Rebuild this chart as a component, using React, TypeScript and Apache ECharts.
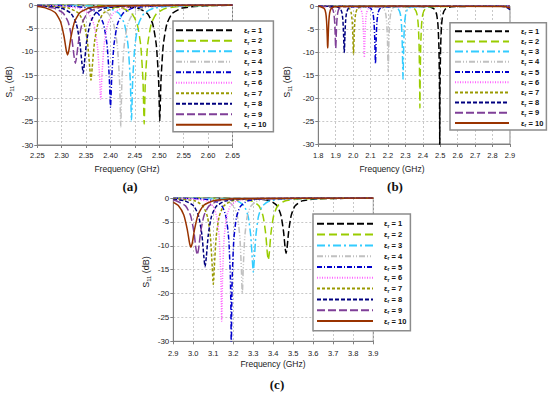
import React, { useEffect, useRef } from 'react';
import * as echarts from 'echarts';

const legendNames = ['εr = 1', 'εr = 2', 'εr = 3', 'εr = 4', 'εr = 5', 'εr = 6', 'εr = 7', 'εr = 8', 'εr = 9', 'εr = 10'];
const colors = ['#000000', '#99cc00', '#33ccff', '#c0c0c0', '#0000cc', '#ff66ff', '#999900', '#000080', '#7f3f98', '#993300'];
const dashes: any[] = [[7, 3], [8, 4], [8, 3, 2, 3], [6, 2, 1, 2, 1, 2], [5, 2, 1, 2], [1, 1.5], [3, 2], [4, 2], [8, 3], 'solid'];

const ticksA = [2.25, 2.65, 0.05];
const ticksB = [1.8, 2.9, 0.1];
const ticksC = [2.9, 3.9, 0.1];
const ticksY = [-30, 0, 5];

// Panel (a)
const A1 = [[2.25,-0.02],[2.41,-0.18],[2.455,-0.66],[2.4755,-1.82],[2.4865,-4.06],[2.4938,-8.52],[2.4985,-16.0],[2.500,-21.6],[2.501,-24.8],[2.502,-21.6],[2.5035,-16.0],[2.5082,-8.52],[2.5155,-4.06],[2.5265,-1.82],[2.547,-0.66],[2.592,-0.18],[2.65,-0.06]];
const A2 = [[2.25,-0.03],[2.378,-0.18],[2.423,-0.66],[2.4435,-1.82],[2.4545,-4.06],[2.4618,-8.52],[2.4665,-16.0],[2.468,-21.9],[2.469,-25.5],[2.470,-21.9],[2.4715,-16.0],[2.4762,-8.52],[2.4835,-4.06],[2.4945,-1.82],[2.515,-0.66],[2.56,-0.18],[2.65,-0.05]];
const A3 = [[2.25,-0.03],[2.352,-0.18],[2.397,-0.66],[2.4175,-1.82],[2.4285,-4.06],[2.4358,-8.52],[2.4405,-16.0],[2.442,-21.6],[2.443,-24.8],[2.444,-21.6],[2.4455,-16.0],[2.4502,-8.52],[2.4575,-4.06],[2.4685,-1.82],[2.489,-0.66],[2.534,-0.18],[2.65,-0.04]];
const A4 = [[2.25,-0.05],[2.33,-0.18],[2.375,-0.66],[2.3955,-1.82],[2.4065,-4.06],[2.4138,-8.53],[2.4185,-16.1],[2.42,-22.1],[2.421,-26.1],[2.422,-22.1],[2.4235,-16.1],[2.4282,-8.53],[2.4355,-4.06],[2.4465,-1.82],[2.467,-0.66],[2.512,-0.18],[2.65,-0.03]];
const A5 = [[2.25,-0.07],[2.309,-0.18],[2.354,-0.66],[2.3745,-1.80],[2.3855,-4.04],[2.3928,-8.42],[2.3975,-15.5],[2.399,-19.9],[2.40,-21.9],[2.401,-19.9],[2.4025,-15.5],[2.4072,-8.42],[2.4145,-4.04],[2.4255,-1.80],[2.446,-0.66],[2.491,-0.18],[2.65,-0.03]];
const A6 = [[2.25,-0.09],[2.289,-0.18],[2.334,-0.66],[2.3545,-1.79],[2.3655,-4.02],[2.3728,-8.35],[2.3775,-15.0],[2.379,-18.8],[2.38,-20.2],[2.381,-18.8],[2.3825,-15.0],[2.3872,-8.35],[2.3945,-4.02],[2.4055,-1.79],[2.426,-0.66],[2.471,-0.18],[2.65,-0.02]];
const A7 = [[2.25,-0.12],[2.269,-0.18],[2.314,-0.65],[2.3345,-1.76],[2.3455,-3.92],[2.3528,-7.98],[2.3575,-13.4],[2.36,-16.1],[2.3625,-13.4],[2.3672,-7.98],[2.3745,-3.92],[2.3855,-1.76],[2.406,-0.65],[2.451,-0.18],[2.65,-0.02]];
const A8 = [[2.25,-0.16],[2.2985,-0.64],[2.3185,-1.73],[2.3295,-3.85],[2.3368,-7.75],[2.3415,-12.5],[2.344,-14.6],[2.3465,-12.5],[2.3512,-7.75],[2.3585,-3.85],[2.3695,-1.73],[2.3895,-0.64],[2.435,-0.18],[2.65,-0.02]];
const A9 = [[2.25,-0.24],[2.2825,-0.62],[2.3025,-1.68],[2.3135,-3.72],[2.3208,-7.29],[2.3255,-11.1],[2.328,-12.5],[2.3305,-11.1],[2.3352,-7.29],[2.3425,-3.72],[2.3535,-1.68],[2.3735,-0.62],[2.419,-0.17],[2.65,-0.02]];
const A10 = [[2.25,-0.34],[2.2665,-0.61],[2.2865,-1.62],[2.2975,-3.54],[2.3048,-6.75],[2.3095,-9.8],[2.312,-10.7],[2.3145,-9.8],[2.3192,-6.75],[2.3265,-3.54],[2.3375,-1.62],[2.3575,-0.61],[2.403,-0.16],[2.65,-0.02]];

// Panel (b)
const B1 = [[1.80,-0.01],[2.432,-0.16],[2.4645,-0.64],[2.4788,-1.79],[2.4866,-4.08],[2.4918,-8.57],[2.4951,-16.4],[2.4962,-23.7],[2.497,-32],[2.4978,-23.7],[2.4989,-16.4],[2.5022,-8.57],[2.5074,-4.08],[2.5152,-1.79],[2.5295,-0.64],[2.562,-0.16],[2.9,-0.02]];
const B2 = [[1.80,-0.01],[2.323,-0.16],[2.353,-0.64],[2.3662,-1.78],[2.3734,-4.04],[2.3782,-8.43],[2.3812,-15.5],[2.3823,-20.1],[2.383,-22.2],[2.3837,-20.1],[2.3848,-15.5],[2.3878,-8.43],[2.3926,-4.04],[2.3998,-1.78],[2.413,-0.64],[2.443,-0.16],[2.9,-0.01]];
const B3 = [[1.80,-0.01],[2.231,-0.16],[2.2585,-0.63],[2.2706,-1.74],[2.2772,-3.92],[2.2816,-7.95],[2.2844,-13.3],[2.286,-15.9],[2.2877,-13.3],[2.2904,-7.95],[2.2948,-3.92],[2.3014,-1.74],[2.3135,-0.63],[2.341,-0.16],[2.9,-0.01]];
const B4 = [[1.80,-0.01],[2.151,-0.16],[2.176,-0.62],[2.187,-1.71],[2.193,-3.84],[2.197,-7.69],[2.1995,-12.3],[2.201,-14.3],[2.2025,-12.3],[2.205,-7.69],[2.209,-3.84],[2.215,-1.71],[2.226,-0.62],[2.251,-0.16],[2.9,-0.01]];
const B5 = [[1.80,-0.01],[2.078,-0.16],[2.103,-0.60],[2.114,-1.66],[2.120,-3.72],[2.124,-7.29],[2.1265,-11.1],[2.128,-12.5],[2.1295,-11.1],[2.132,-7.29],[2.136,-3.72],[2.142,-1.66],[2.153,-0.60],[2.178,-0.16],[2.9,-0.01]];
const B6 = [[1.80,-0.01],[2.019,-0.15],[2.0415,-0.59],[2.0514,-1.62],[2.0568,-3.60],[2.0604,-6.91],[2.0627,-10.15],[2.064,-11.2],[2.0653,-10.15],[2.0676,-6.91],[2.0712,-3.60],[2.0766,-1.62],[2.0865,-0.59],[2.109,-0.15],[2.9,-0.01]];
const B7 = [[1.80,-0.01],[1.957,-0.15],[1.9795,-0.58],[1.9894,-1.59],[1.9948,-3.52],[1.9984,-6.68],[2.0007,-9.6],[2.002,-10.5],[2.0033,-9.6],[2.0056,-6.68],[2.0092,-3.52],[2.0146,-1.59],[2.0245,-0.58],[2.047,-0.15],[2.9,-0.01]];
const B8 = [[1.80,-0.02],[1.904,-0.15],[1.9265,-0.58],[1.9364,-1.57],[1.9418,-3.47],[1.9454,-6.54],[1.9477,-9.3],[1.949,-10.1],[1.9503,-9.3],[1.9526,-6.54],[1.9562,-3.47],[1.9616,-1.57],[1.9715,-0.58],[1.994,-0.15],[2.85,-0.05],[2.88,-0.3],[2.9,-0.8]];
const B9 = [[1.80,-0.03],[1.86,-0.15],[1.88,-0.56],[1.8888,-1.53],[1.8936,-3.34],[1.8968,-6.16],[1.8988,-8.55],[1.900,-9.2],[1.9012,-8.55],[1.9032,-6.16],[1.9064,-3.34],[1.9112,-1.53],[1.92,-0.56],[1.94,-0.15],[2.9,-0.01]];
const B10 = [[1.80,-0.08],[1.814,-0.15],[1.834,-0.56],[1.8428,-1.52],[1.8476,-3.32],[1.8508,-6.12],[1.8528,-8.46],[1.854,-9.1],[1.8552,-8.46],[1.8572,-6.12],[1.8604,-3.32],[1.8652,-1.52],[1.874,-0.56],[1.894,-0.15],[2.2,-0.02],[2.86,-0.1],[2.9,-0.4]];

// Panel (c)
const C1 = [[2.90,-0.02],[3.304,-0.16],[3.384,-0.60],[3.4192,-1.64],[3.4384,-3.64],[3.4512,-7.03],[3.4592,-10.47],[3.464,-11.6],[3.4688,-10.47],[3.4768,-7.03],[3.4896,-3.64],[3.5088,-1.64],[3.544,-0.60],[3.624,-0.16],[3.9,-0.04]];
const C2 = [[2.90,-0.02],[3.21,-0.16],[3.2925,-0.61],[3.3288,-1.68],[3.3486,-3.76],[3.3618,-7.42],[3.370,-11.49],[3.375,-13.0],[3.380,-11.49],[3.3882,-7.42],[3.4014,-3.76],[3.4212,-1.68],[3.4575,-0.61],[3.54,-0.16],[3.9,-0.03]];
const C3 = [[2.90,-0.03],[3.14,-0.16],[3.22,-0.63],[3.2552,-1.73],[3.2744,-3.90],[3.2872,-7.89],[3.2952,-13.0],[3.300,-15.5],[3.3048,-13.0],[3.3128,-7.89],[3.3256,-3.90],[3.3448,-1.73],[3.38,-0.63],[3.46,-0.16],[3.9,-0.03]];
const C4 = [[2.90,-0.03],[3.095,-0.16],[3.17,-0.64],[3.203,-1.77],[3.221,-4.02],[3.233,-8.34],[3.2405,-14.98],[3.2432,-18.7],[3.245,-20.0],[3.2468,-18.7],[3.2495,-14.98],[3.257,-8.34],[3.269,-4.02],[3.287,-1.77],[3.32,-0.64],[3.395,-0.16],[3.9,-0.02]];
const C5 = [[2.90,-0.05],[3.03,-0.16],[3.11,-0.64],[3.1452,-1.79],[3.1644,-4.08],[3.1772,-8.57],[3.1852,-16.4],[3.1881,-23.7],[3.190,-33],[3.1919,-23.7],[3.1948,-16.4],[3.2028,-8.57],[3.2156,-4.08],[3.2348,-1.79],[3.27,-0.64],[3.35,-0.16],[3.9,-0.02]];
const C6 = [[2.90,-0.07],[2.992,-0.16],[3.067,-0.64],[3.10,-1.78],[3.118,-4.06],[3.13,-8.53],[3.1375,-16.05],[3.1402,-22.0],[3.142,-25.8],[3.1438,-22.0],[3.1465,-16.05],[3.154,-8.53],[3.166,-4.06],[3.184,-1.78],[3.217,-0.64],[3.292,-0.16],[3.9,-0.02]];
const C7 = [[2.90,-0.13],[2.92,-0.16],[3.01,-0.63],[3.0496,-1.76],[3.0712,-3.98],[3.0856,-8.19],[3.0946,-14.3],[3.0978,-17.1],[3.100,-18.1],[3.1022,-17.1],[3.1054,-14.3],[3.1144,-8.19],[3.1288,-3.98],[3.1504,-1.76],[3.19,-0.63],[3.28,-0.16],[3.9,-0.01]];
const C8 = [[2.90,-0.26],[2.959,-0.62],[3.003,-1.71],[3.027,-3.84],[3.043,-7.71],[3.053,-12.4],[3.059,-14.4],[3.065,-12.4],[3.075,-7.71],[3.091,-3.84],[3.115,-1.71],[3.159,-0.62],[3.259,-0.16],[3.9,-0.01]];
const C9 = [[2.90,-0.47],[2.915,-0.60],[2.9612,-1.65],[2.9864,-3.67],[3.0032,-7.13],[3.0137,-10.7],[3.020,-11.9],[3.0263,-10.7],[3.0368,-7.13],[3.0536,-3.67],[3.0788,-1.65],[3.125,-0.60],[3.23,-0.16],[3.9,-0.01]];
const C10 = [[2.90,-0.90],[2.925,-1.58],[2.952,-3.50],[2.970,-6.61],[2.9813,-9.46],[2.988,-10.3],[2.9948,-9.46],[3.006,-6.61],[3.024,-3.50],[3.051,-1.58],[3.1005,-0.58],[3.213,-0.15],[3.9,-0.01]];

const curvesA = [A1, A2, A3, A4, A5, A6, A7, A8, A9, A10];
const curvesB = [B1, B2, B3, B4, B5, B6, B7, B8, B9, B10];
const curvesC = [C1, C2, C3, C4, C5, C6, C7, C8, C9, C10];

const FONT = 'Liberation Sans, Arial, sans-serif';

const panels = [
  { ticks: ticksA, dec: 2, curves: curvesA, grid: { left: 37.3, top: 5, width: 195.2, height: 140 }, xMargin: 6.5,
    legend: { left: 173, top: 21, padding: [5.2, 7, 2.5, 2], itemWidth: 56, itemGap: 2, textPad: 7 },
    yName: [8.5, 82], xName: [127, 169], tag: ['(a)', 130, 186.5] },
  { ticks: ticksB, dec: 1, curves: curvesB, grid: { left: 318.3, top: 6, width: 191.7, height: 138 }, xMargin: 7.5,
    legend: { left: 450, top: 22.7, padding: [4.5, 3, 2.5, 4], itemWidth: 54, itemGap: 1.7, textPad: 7 },
    yName: [287, 82], xName: [392, 169], tag: ['(b)', 395, 186.5] },
  { ticks: ticksC, dec: 1, curves: curvesC, grid: { left: 173.3, top: 198, width: 200, height: 143.3 }, xMargin: 8,
    legend: { left: 313, top: 214, padding: [5.8, 4, 5.2, 3], itemWidth: 56, itemGap: 2.3, textPad: 6 },
    yName: [145.5, 272], xName: [273, 364], tag: ['(c)', 277, 384] },
];

export default function App() {
  const ref = useRef<HTMLDivElement>(null);
  useEffect(() => {
    const chart = echarts.init(ref.current!, undefined, { renderer: 'svg' });
    const grid: any[] = [];
    const xAxis: any[] = [];
    const yAxis: any[] = [];
    const series: any[] = [];
    const legend: any[] = [];
    const graphic: any[] = [];
    panels.forEach((p, pi) => {
      grid.push({ ...p.grid, show: true, borderColor: '#808080', borderWidth: 1, containLabel: false });
      xAxis.push({
        type: 'value', gridIndex: pi, min: p.ticks[0], max: p.ticks[1], interval: p.ticks[2],
        axisLine: { show: true, onZero: false, lineStyle: { color: '#808080', width: 1 } },
        axisTick: { show: true, length: 3, lineStyle: { color: '#808080' } },
        axisLabel: { fontSize: 7.5, color: '#222', fontFamily: FONT, margin: p.xMargin, formatter: (v: number) => v.toFixed(p.dec) },
        splitLine: { show: true, lineStyle: { color: '#c8c8c8', type: [2, 2] } },
      });
      yAxis.push({
        type: 'value', gridIndex: pi, min: ticksY[0], max: ticksY[1], interval: ticksY[2],
        axisLine: { show: true, onZero: false, lineStyle: { color: '#808080', width: 1 } },
        axisTick: { show: true, length: 3, lineStyle: { color: '#808080' } },
        axisLabel: { fontSize: 8, color: '#222', fontFamily: FONT, margin: 4 },
        splitLine: { show: true, lineStyle: { color: '#c8c8c8', type: [2, 2] } },
      });
      p.curves.forEach((d, i) => {
        series.push({
          type: 'line', name: legendNames[i], xAxisIndex: pi, yAxisIndex: pi, data: d,
          symbol: 'none', showSymbol: false, smooth: 0.2, clip: true, color: colors[i],
          lineStyle: { color: colors[i], width: 1.5, type: dashes[i] },
        });
      });
      legend.push({
        data: legendNames, orient: 'vertical', left: p.legend.left, top: p.legend.top,
        padding: p.legend.padding, itemWidth: p.legend.itemWidth, itemHeight: 9, itemGap: p.legend.itemGap,
        backgroundColor: '#fff', borderColor: '#8c8c8c', borderWidth: 1.5, borderRadius: 0,
        selectedMode: false,
        itemStyle: { opacity: 0 },
        formatter: (name: string) => `{e|ε}{s|r}{e| = ${name.split('= ')[1]}}`,
        textStyle: {
          padding: [0, 0, 0, p.legend.textPad],
          rich: {
            e: { fontSize: 7.5, fontWeight: 'bold', color: '#111', fontFamily: FONT, lineHeight: 9, verticalAlign: 'middle' },
            s: { fontSize: 5, fontWeight: 'bold', color: '#111', fontFamily: FONT, lineHeight: 5, verticalAlign: 'bottom' },
          },
        },
      });
      graphic.push({
        type: 'text', x: p.yName[0], y: p.yName[1], rotation: Math.PI / 2,
        style: {
          text: '{a|S}{b|11}{a| (dB)}', align: 'center', verticalAlign: 'middle', fill: '#222',
          rich: {
            a: { fontSize: 9, fontFamily: FONT, fill: '#222', lineHeight: 12, verticalAlign: 'middle' },
            b: { fontSize: 6, fontFamily: FONT, fill: '#222', lineHeight: 6, verticalAlign: 'bottom' },
          },
        },
      });
      graphic.push({
        type: 'text', x: p.xName[0], y: p.xName[1],
        style: { text: 'Frequency (GHz)', align: 'center', verticalAlign: 'middle', fill: '#222', fontSize: 8.5, fontFamily: FONT },
      });
      graphic.push({
        type: 'text', x: p.tag[1], y: p.tag[2],
        style: { text: p.tag[0] as string, align: 'center', verticalAlign: 'middle', fill: '#111', fontSize: 13, fontWeight: 'bold', fontFamily: 'Liberation Serif, serif' },
      });
    });
    chart.setOption({ animation: false, backgroundColor: '#fff', grid, xAxis, yAxis, series, legend, graphic });
    return () => chart.dispose();
  }, []);
  return <div ref={ref} style={{ position: 'fixed', left: 0, top: 0, width: 550, height: 396 }} />;
}
